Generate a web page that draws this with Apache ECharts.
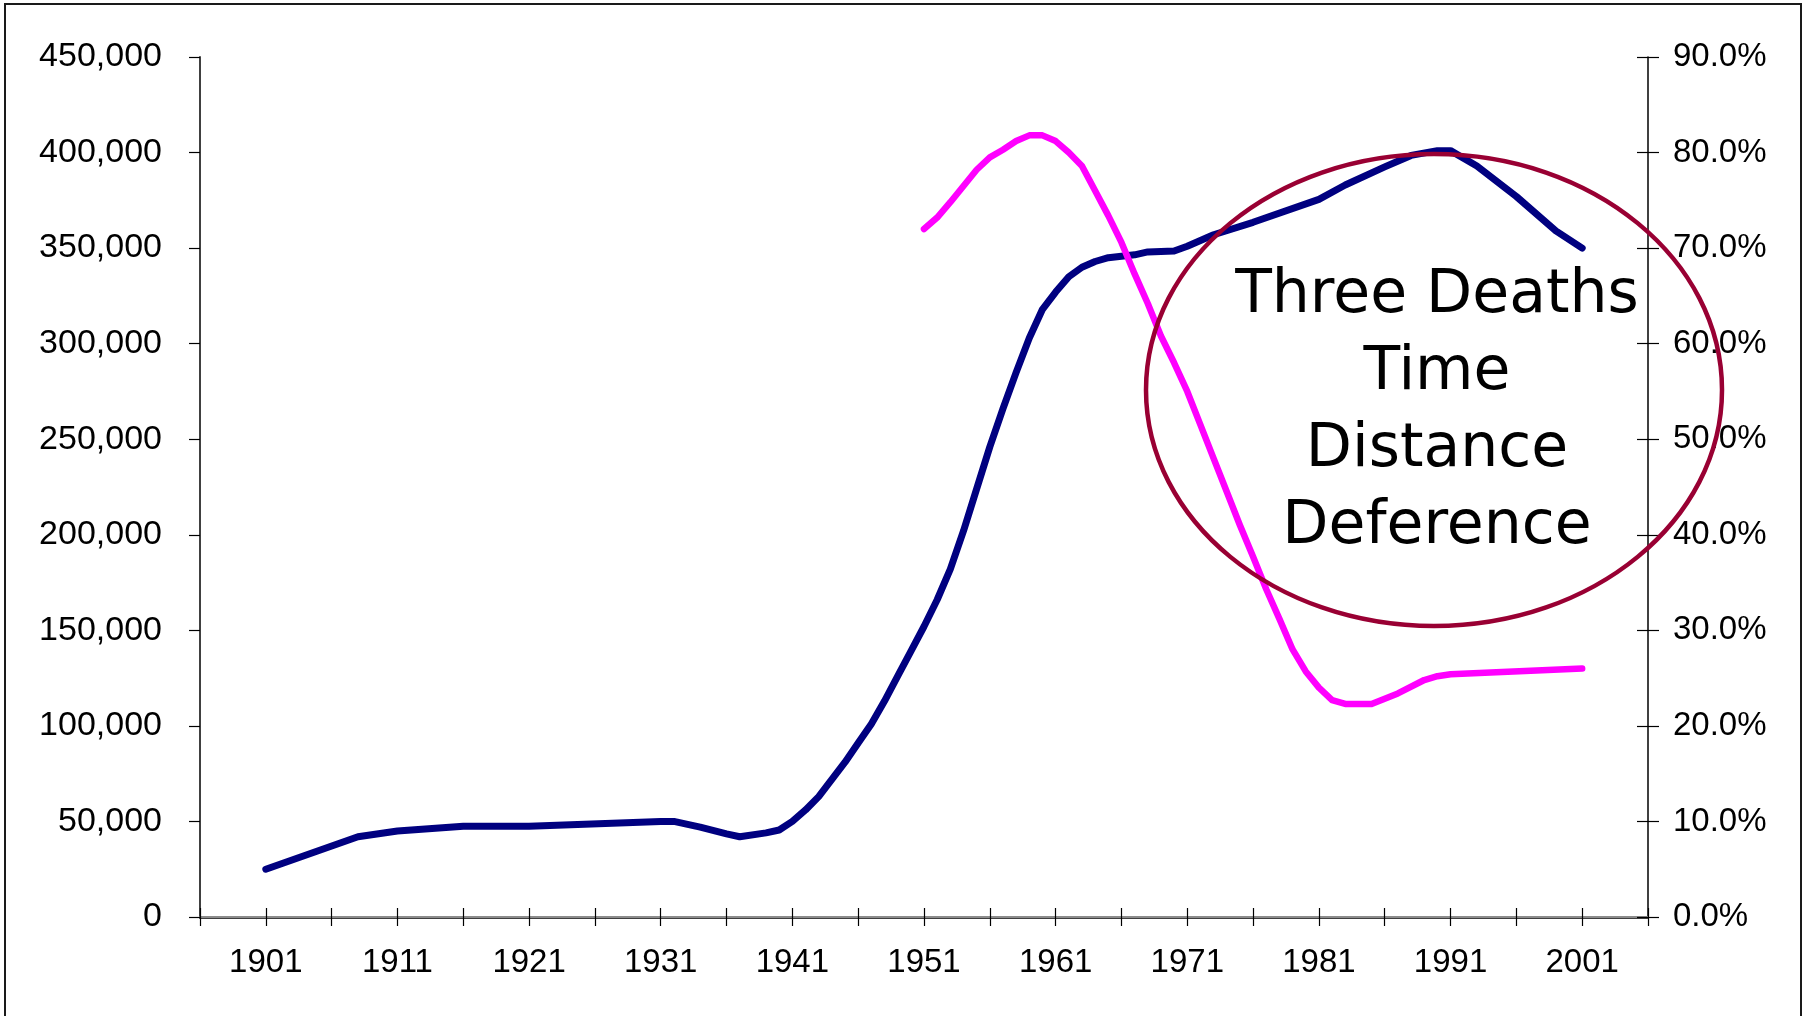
<!DOCTYPE html>
<html>
<head>
<meta charset="utf-8">
<script src="https://cdn.jsdelivr.net/npm/echarts@6/dist/echarts.min.js"></script>
<style>
html,body{margin:0;padding:0;background:#fff;}
#chart{width:1805px;height:1016px;}
</style>
</head>
<body>
<div id="chart"></div>
<script>
// Category axis: years 1896..2006
const firstYear = 1896, lastYear = 2006;
const categories = [];
for (let y = firstYear; y <= lastYear; y++) categories.push(String(y));
const xTickLabels = ['1901','1911','1921','1931','1941','1951','1961','1971','1981','1991','2001'];

// Blue series (left axis)
const blueYears = [1901,1908,1911,1916,1921,1931,1932,1934,1936,1937,1939,1940,1941,1942,1943,1944,1945,1946,1947,1948,1949,1950,1951,1952,1953,1954,1955,1956,1957,1958,1959,1960,1961,1962,1963,1964,1965,1967,1968,1970,1971,1973,1976,1981,1983,1986,1988,1990,1991,1993,1996,1999,2001];
const blueValues = [25000,42000,45000,47500,47500,50000,50000,47000,43500,42000,44000,45500,50000,56000,63000,72000,81000,91000,101000,113000,126000,139000,152000,166000,182000,202000,224000,246000,266000,285000,303000,318000,327000,335000,340000,343000,345000,346500,348000,348500,351000,357000,363500,375500,383000,392500,398500,401000,401000,393000,377000,359000,350000];

// Magenta series (right axis, share)
const pinkYears = [1951,1952,1953,1954,1955,1956,1957,1958,1959,1960,1961,1962,1963,1964,1965,1966,1967,1968,1969,1970,1971,1972,1973,1974,1975,1976,1977,1978,1979,1980,1981,1982,1983,1985,1987,1989,1990,1991,2001];
const pinkValues = [0.72,0.732,0.748,0.765,0.782,0.795,0.803,0.812,0.818,0.818,0.812,0.80,0.786,0.76,0.734,0.706,0.673,0.642,0.608,0.58,0.55,0.515,0.48,0.445,0.41,0.377,0.343,0.312,0.28,0.257,0.24,0.227,0.223,0.223,0.234,0.248,0.252,0.254,0.26];

const leftTicks = {min:0, max:450000, interval:50000};
const rightTicks = {min:0, max:0.9, interval:0.1};

const annotationLines = ['Three Deaths','Time','Distance','Deference'];

const chart = echarts.init(document.getElementById('chart'), null, {renderer:'canvas'});

const blueData = blueYears.map((y,i)=>[String(y), blueValues[i]]);
const pinkData = pinkYears.map((y,i)=>[String(y), pinkValues[i]]);

const labelFont = 'Liberation Sans, Arial, sans-serif';

const baseX = {
  type:'category', data:categories, boundaryGap:false, position:'bottom',
  splitLine:{show:false}
};

const option = {
  animation:false,
  backgroundColor:'#ffffff',
  grid:{left:200, right:157, top:57, bottom:99, containLabel:false},
  xAxis:[
    Object.assign({}, baseX, {
      axisLine:{show:true, lineStyle:{color:'#000', width:2.5}},
      axisTick:{show:true, inside:false, length:9, lineStyle:{color:'#000', width:1.2},
        interval:function(i){ return i % 5 === 0; }},
      axisLabel:{show:true, margin:29, color:'#000', fontSize:33, fontFamily:labelFont,
        interval:function(i, v){ return xTickLabels.indexOf(v) >= 0; }}
    }),
    Object.assign({}, baseX, {
      axisLine:{show:false},
      axisTick:{show:true, inside:true, length:9, lineStyle:{color:'#000', width:1.2},
        interval:function(i){ return i % 5 === 0; }},
      axisLabel:{show:false}
    }),
    Object.assign({}, baseX, {
      position:'top',
      axisLine:{show:true, lineStyle:{color:'#8c8c8c', width:2}},
      axisTick:{show:false}, axisLabel:{show:false}
    })
  ],
  yAxis:[
    {
      type:'value', position:'left', min:leftTicks.min, max:leftTicks.max, interval:leftTicks.interval,
      splitLine:{show:false},
      axisLine:{show:true, lineStyle:{color:'#404040', width:2}},
      axisTick:{show:true, inside:false, length:11, lineStyle:{color:'#000', width:1.2}},
      axisLabel:{margin:38, color:'#000', fontSize:34, fontFamily:labelFont,
        formatter:function(v){ return v.toLocaleString('en-US'); }}
    },
    {
      type:'value', position:'right', min:rightTicks.min, max:rightTicks.max, interval:rightTicks.interval,
      splitLine:{show:false},
      axisLine:{show:true, lineStyle:{color:'#000', width:1.5}},
      axisTick:{show:true, inside:false, length:11, lineStyle:{color:'#000', width:1.2}},
      axisLabel:{margin:25, color:'#000', fontSize:33, fontFamily:labelFont,
        formatter:function(v){ return (v*100).toFixed(1) + '%'; }}
    },
    {
      type:'value', position:'right', min:rightTicks.min, max:rightTicks.max, interval:rightTicks.interval,
      splitLine:{show:false},
      axisLine:{show:false},
      axisTick:{show:true, inside:true, length:11, lineStyle:{color:'#000', width:1.2}},
      axisLabel:{show:false}
    }
  ],
  series:[
    {
      type:'line', name:'Deaths', xAxisIndex:0, yAxisIndex:0, data:blueData,
      symbol:'none', smooth:false,
      lineStyle:{color:'#000080', width:7, cap:'round', join:'round'},
      z:3
    },
    {
      type:'line', name:'Share', xAxisIndex:0, yAxisIndex:1, data:pinkData,
      symbol:'none', smooth:false,
      lineStyle:{color:'#ff00ff', width:6.5, cap:'round', join:'round'},
      z:4
    }
  ],
  graphic:[
    {
      type:'rect', z:100, silent:true,
      shape:{x:5, y:4, width:1796, height:1040},
      style:{fill:'none', stroke:'#1a1a1a', lineWidth:2}
    },
    {
      type:'ellipse', z:110, silent:true,
      shape:{cx:1434, cy:390, rx:288, ry:236},
      style:{fill:'none', stroke:'#990033', lineWidth:4.5}
    }
  ].concat(annotationLines.map(function(t, i){
    return {
      type:'text', z:120, silent:true,
      x:1437, y:296 + i*77,
      style:{text:t, fill:'#000', fontSize:60,
        fontFamily:'"Comic Sans MS", "DejaVu Sans", sans-serif',
        align:'center', verticalAlign:'middle'}
    };
  }))
};

chart.setOption(option);
</script>
</body>
</html>
